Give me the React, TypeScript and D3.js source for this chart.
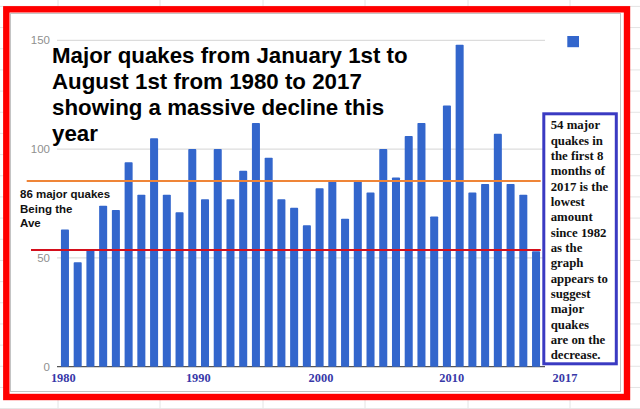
import React from "react";
import * as d3 from "d3";

// ---- data ----
const years: number[] = d3.range(1980, 2018);
const quakes: number[] = [
  63, 48, 54, 74, 72, 94, 79, 105, 79, 71,
  100, 77, 100, 77, 90, 112, 96, 77, 73, 65,
  82, 85, 68, 85, 80, 100, 87, 106, 112, 69,
  120, 148, 80, 84, 107, 84, 79, 53,
];
const yTicks: number[] = [0, 50, 100, 150];
const yearLabels: string[] = ["1980", "1990", "2000", "2010", "2017"];
const averageLineValue = 85.3;
const lowLineValue = 53.6;

const titleLines: string[] = [
  "Major quakes from January 1st to",
  "August 1st from 1980 to 2017",
  "showing a massive decline this",
  "year",
];
const avgNoteLines: string[] = ["86 major quakes", "Being the", "Ave"];
const boxNoteLines: string[] = [
  "54 major", "quakes in", "the first 8", "months of", "2017 is the",
  "lowest", "amount", "since 1982", "as the", "graph", "appears to",
  "suggest", "major", "quakes", "are on the", "decrease.",
];

// ---- layout ----
const W = 640;
const H = 409;
const yearLabelX: number[] = [63.3, 198.3, 321, 451.7, 565];
const sheetCols: number[] = [58, 160, 263, 365, 468, 570];

export default function App() {
  const x = d3
    .scaleBand<number>()
    .domain(years)
    .range([57, 544])
    .paddingInner(0.37)
    .paddingOuter(0.31);
  const y = d3.scaleLinear().domain([0, 150]).range([366.7, 40.3]);

  const sheetRows = d3.range(6.4, H, 21.17);

  return (
    <div style={{ position: "absolute", left: 0, top: 0 }}>
      <svg width={W} height={H} style={{ display: "block", background: "#fff" }}>
        {/* spreadsheet background grid */}
        <g stroke="#e4e4e4" strokeWidth={1}>
          {sheetCols.map((c) => (
            <line key={"c" + c} x1={c} x2={c} y1={0} y2={H} />
          ))}
          {sheetRows.map((r) => (
            <line key={"r" + r} x1={0} x2={W} y1={r} y2={r} />
          ))}
        </g>
        {/* red frame */}
        <rect x={6.3} y={9.3} width={620.7} height={387.7} fill="#fff" stroke="#ff0000" strokeWidth={6.4} />
        {/* chart gray border */}
        <rect x={10.5} y={13.5} width={610} height={378} fill="#fff" stroke="#c4c4c4" strokeWidth={1} />

        {/* gridlines */}
        {yTicks.map((t) => (
          <g key={t}>
            <line
              x1={57}
              x2={545}
              y1={y(t)}
              y2={y(t)}
              stroke={t === 0 ? "#555" : "#d4d4d4"}
              strokeWidth={t === 0 ? 1.2 : 1}
            />
            <text
              x={50}
              y={y(t)}
              dy="0.36em"
              textAnchor="end"
              fontFamily="'Liberation Sans', Arial, sans-serif"
              fontSize={11.5}
              fill="#8f8f8f"
            >
              {t}
            </text>
          </g>
        ))}

        {/* bars */}
        {years.map((yr, i) => (
          <rect
            key={yr}
            x={x(yr)}
            y={y(quakes[i])}
            width={x.bandwidth()}
            height={y(0) - y(quakes[i])}
            fill="#3366cc"
            rx={0.8}
          />
        ))}

        {/* legend swatch */}
        <rect x={567.3} y={36} width={11.7} height={11.2} fill="#3366cc" />

        {/* title */}
        <text
          fontFamily="'Liberation Sans', Arial, sans-serif"
          fontWeight="bold"
          fontSize={22.3}
          fill="#000"
        >
          {titleLines.map((l, i) => (
            <tspan key={i} x={52} y={63.3 + i * 25.8}>
              {l}
            </tspan>
          ))}
        </text>

        {/* average and low lines */}
        <line x1={26.7} x2={540.7} y1={y(averageLineValue)} y2={y(averageLineValue)} stroke="#ef8538" strokeWidth={2} />
        <line x1={31} x2={540.7} y1={y(lowLineValue)} y2={y(lowLineValue)} stroke="#d40f1c" strokeWidth={2} />

        {/* avg note */}
        <text
          fontFamily="'Liberation Sans', Arial, sans-serif"
          fontWeight="bold"
          fontSize={11.5}
          fill="#111"
        >
          {avgNoteLines.map((l, i) => (
            <tspan key={i} x={20} y={198.3 + i * 14.5}>
              {l}
            </tspan>
          ))}
        </text>

        {/* note box */}
        <rect x={543.8} y={113.8} width={72.5} height={250} fill="#fff" stroke="#3a3ac2" strokeWidth={3} />
        <text
          fontFamily="'Liberation Serif', 'Times New Roman', serif"
          fontWeight="bold"
          fontSize={12.8}
          fill="#111"
        >
          {boxNoteLines.map((l, i) => (
            <tspan key={i} x={550.7} y={129.3 + i * 15.33}>
              {l}
            </tspan>
          ))}
        </text>

        {/* year labels */}
        {yearLabels.map((l, i) => (
          <text
            key={l}
            x={yearLabelX[i]}
            y={381.7}
            textAnchor="middle"
            fontFamily="'Liberation Serif', 'Times New Roman', serif"
            fontWeight="bold"
            fontSize={12.4}
            fill="#3838a8"
          >
            {l}
          </text>
        ))}
      </svg>
    </div>
  );
}
